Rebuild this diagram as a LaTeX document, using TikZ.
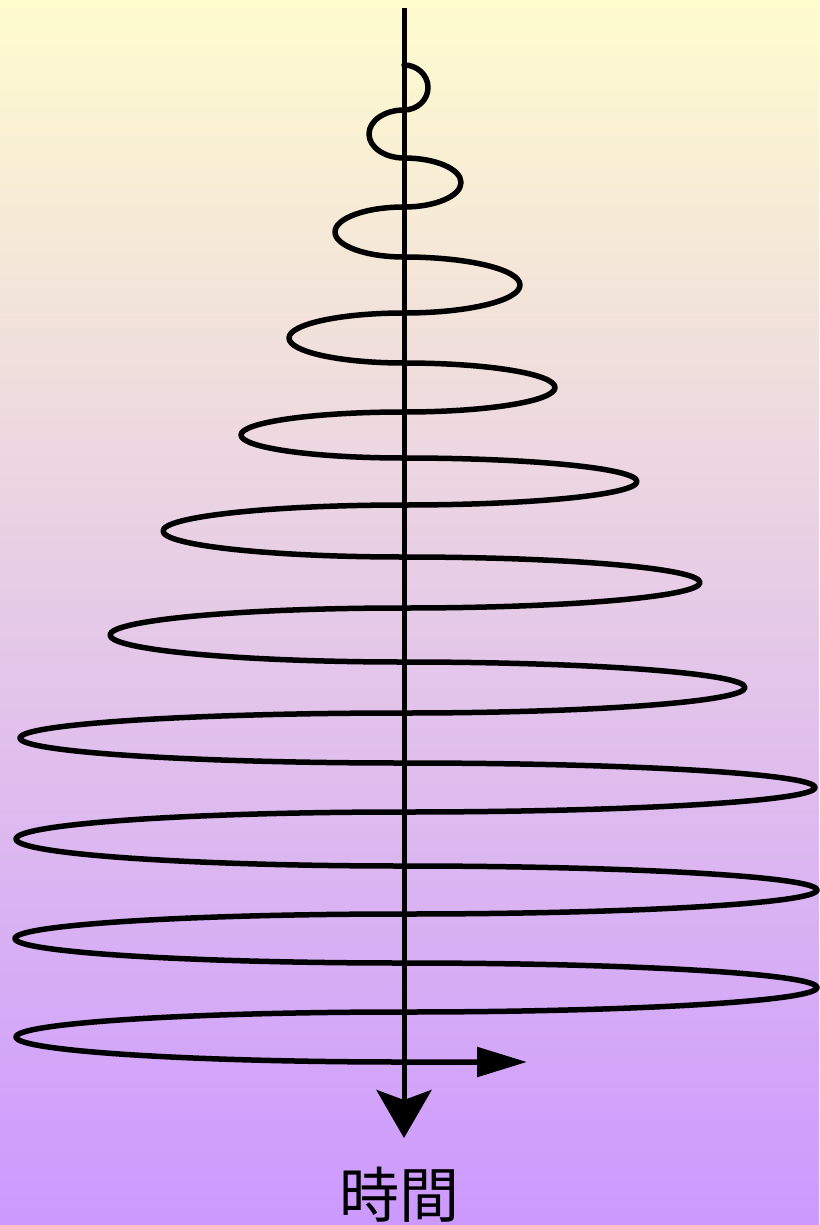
\documentclass[tikz,border=0pt]{standalone}
\usepackage{fontspec}
\newfontfamily\cjk{Noto Sans CJK JP}
\usetikzlibrary{arrows.meta}
\definecolor{topc}{RGB}{255,252,206}
\definecolor{botc}{RGB}{204,153,255}
\tikzset{
  hl/.style n args={3}{insert path={
    .. controls ({404+0.5523*(#3)},{#1}) and ({404+(#3)},{(#1+#2)/2-0.5523*(#2-#1)/2})
    .. ({404+(#3)},{(#1+#2)/2})
    .. controls ({404+(#3)},{(#1+#2)/2+0.5523*(#2-#1)/2}) and ({404+0.5523*(#3)},{#2})
    .. (404,{#2})}},
  spiral/.style={line width=5.5pt, line join=round, line cap=round},
  axisline/.style={line width=5pt},
  label/.style={font=\cjk\fontsize{60}{62}\selectfont, inner sep=0pt, anchor=base}
}
\begin{document}
\begin{tikzpicture}[x=1pt,y=-1pt]
\useasboundingbox (0,0) rectangle (819,1225);
\fill[top color=topc, bottom color=botc] (0,0) rectangle (819,1225);
\coordinate (axtop) at (404,8);
\coordinate (axtip) at (404,1138);
\coordinate (start) at (404,65);
\coordinate (rtip) at (527,1062);
\draw[axisline, -{Stealth[length=48pt,width=55pt,inset=10pt]}] (axtop) -- (axtip);
\draw[spiral, -{Triangle[length=50pt,width=29pt]}] (start)
  [hl={65}{110}{24}]
  [hl={110}{158}{-35}]
  [hl={158}{207}{57}]
  [hl={207}{257}{-69}]
  [hl={257}{313}{116}]
  [hl={313}{363}{-115}]
  [hl={363}{412}{151}]
  [hl={412}{458}{-163}]
  [hl={458}{505}{233}]
  [hl={505}{557}{-241}]
  [hl={557}{608}{296}]
  [hl={608}{662}{-294}]
  [hl={662}{713}{341}]
  [hl={713}{763}{-384}]
  [hl={763}{812}{411}]
  [hl={812}{866}{-388}]
  [hl={866}{914}{413}]
  [hl={914}{963}{-389}]
  [hl={963}{1012}{413}]
  [hl={1012}{1062}{-388}]
  -- (rtip);
\node[label] (time) at (399,1217) {時間};
\end{tikzpicture}
\end{document}
